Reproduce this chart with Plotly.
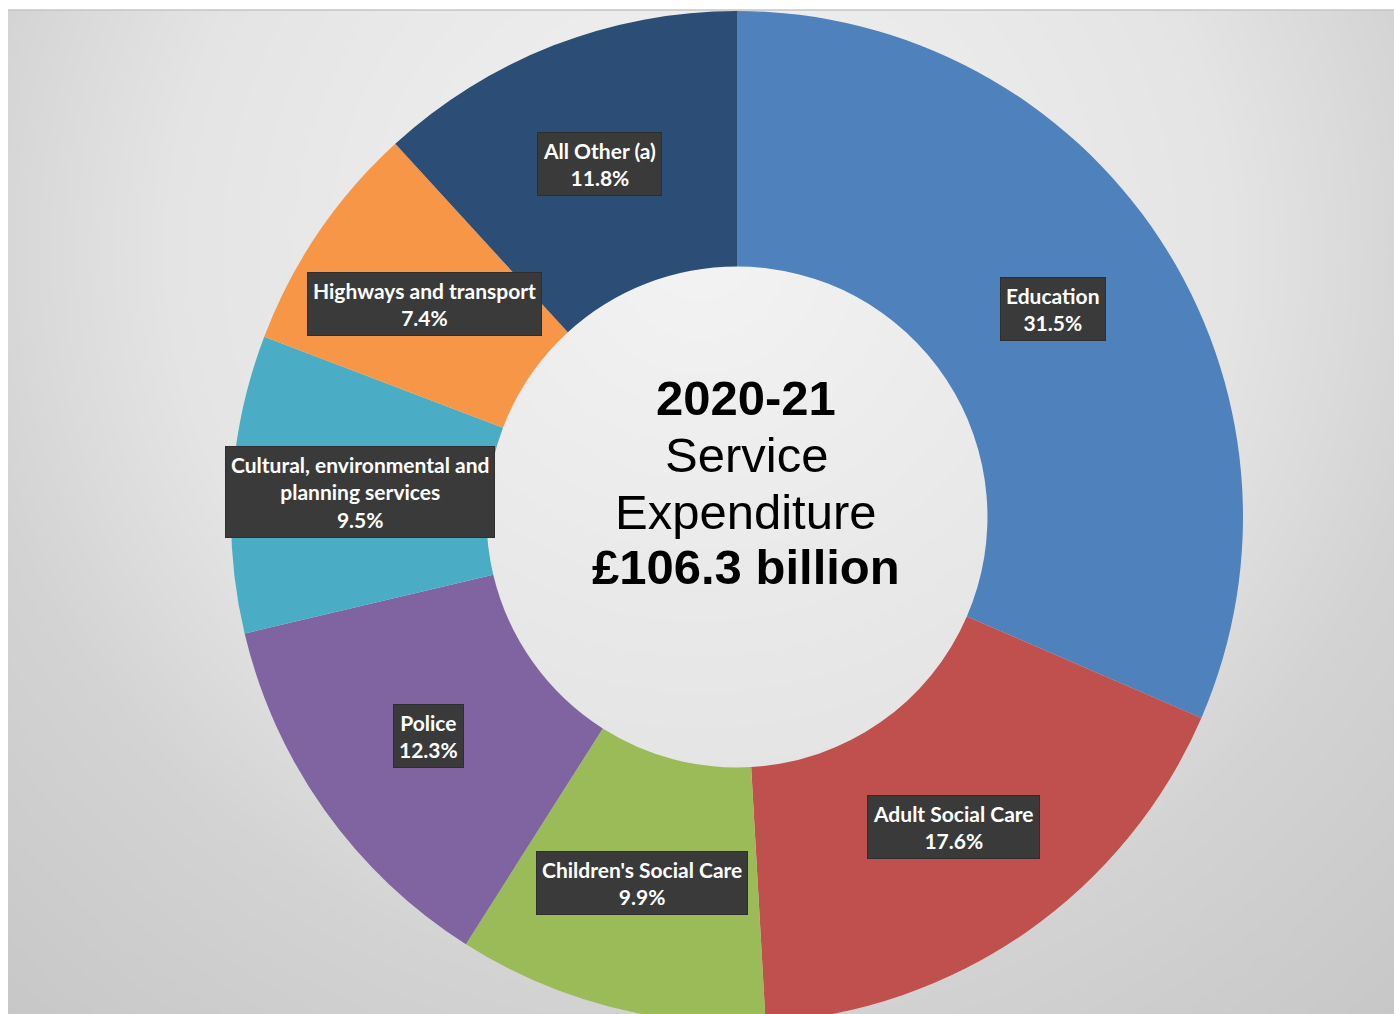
import math
import numpy as np
import plotly.graph_objects as go

# ---- data ----
categories = ["Education", "Adult Social Care", "Children's Social Care", "Police",
              "Cultural, environmental and<br>planning services", "Highways and transport",
              "All Other (a)"]
shares = [31.5, 17.6, 9.9, 12.3, 9.5, 7.4, 11.8]
colors = ["#4f81bd", "#c0504d", "#9bbb59", "#8064a2", "#4bacc6", "#f79646", "#2c4d75"]
center_lines = ["2020-21", "Service", "Expenditure", "£106.3 billion"]
center_bold = [True, False, False, True]

# ---- layout geometry (pixels) ----
W, H = 1394, 1024
cx, cy, R = 737, 517, 506
HOLE = 0.495

fig = go.Figure()

# background radial gradient (style only)
gx = np.linspace(8, W, 60)
gy = np.linspace(10, H, 48)
GX, GY = np.meshgrid(gx, gy)
gz = np.sqrt((GX - 700) ** 2 + (GY - 250) ** 2)
fig.add_trace(go.Heatmap(
    x=gx, y=gy, z=gz, zmin=0, zmax=1060, zsmooth="best", showscale=False,
    hoverinfo="skip",
    colorscale=[[0, "#f3f3f3"], [0.5, "#e4e4e4"], [0.7, "#d3d3d3"], [1, "#c6c6c6"]],
))

fig.add_trace(go.Pie(
    labels=categories, values=shares, sort=False, direction="clockwise", rotation=0,
    hole=HOLE, textinfo="none", hoverinfo="label+percent",
    marker=dict(colors=colors, line=dict(width=0)),
    domain=dict(x=[(cx - R) / W, (cx + R) / W], y=[1 - (cy + R) / H, 1 - (cy - R) / H]),
    showlegend=False,
))

annotations = []
r_lab = R * (1 + HOLE) / 2
total = sum(shares)
cum = 0.0
for name, v in zip(categories, shares):
    mid = (cum + v / 2) / total * 2 * math.pi
    cum += v
    px = cx + r_lab * math.sin(mid)
    py = cy - r_lab * math.cos(mid)
    annotations.append(dict(
        text=f"{name}<br>{v:.1f}%", x=px / W, y=1 - py / H, xref="paper", yref="paper",
        showarrow=False, xanchor="center", yanchor="middle", borderpad=5, align="center",
        bgcolor="#3a3a3a", bordercolor="#2e2e2e", borderwidth=1,
        font=dict(family="Lato", size=21, color="#ffffff", weight="bold"),
    ))

line_offsets = [-119, -62, -5, 50]
for t, b, off in zip(center_lines, center_bold, line_offsets):
    annotations.append(dict(
        text=t, x=cx / W, y=1 - cy / H, xref="paper", yref="paper", showarrow=False,
        xanchor="center", yanchor="middle", xshift=9, yshift=-off,
        font=dict(family="Liberation Sans", size=49, color="#000000",
                  weight="bold" if b else "normal"),
    ))

fig.update_layout(
    width=W, height=H,
    margin=dict(l=0, r=0, t=0, b=0),
    paper_bgcolor="#ffffff", plot_bgcolor="rgba(0,0,0,0)",
    xaxis=dict(range=[8, W], domain=[8 / W, 1], visible=False, fixedrange=True),
    yaxis=dict(range=[H, 10], domain=[0, 1 - 10 / H], visible=False, fixedrange=True),
    annotations=annotations,
    shapes=[dict(type="line", xref="paper", yref="paper", x0=8 / W, x1=1,
                 y0=1 - 10 / H, y1=1 - 10 / H, line=dict(color="#c4c4c4", width=1.5))],
)

fig.write_html(
    "out.html",
    config={"displayModeBar": False},
    post_script="document.body.style.margin='0';document.body.style.overflow='hidden';"
                "document.documentElement.style.overflow='hidden';",
)
